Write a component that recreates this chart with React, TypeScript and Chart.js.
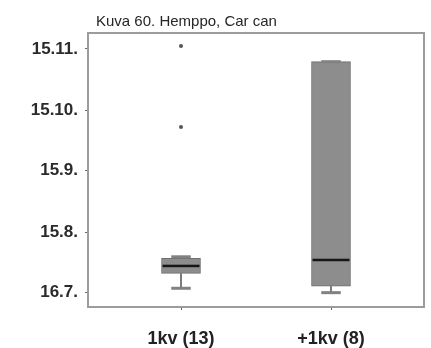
import React, { useEffect, useRef } from "react";
import { Chart, registerables } from "chart.js";

Chart.register(...registerables);

// Day-of-year values (non-leap year): 197 = 16.7., 227 = 15.8., 258 = 15.9., 288 = 15.10., 319 = 15.11.
const TITLE = "Kuva 60. Hemppo, Car can";
const CATEGORIES = ["1kv (13)", "+1kv (8)"];
const WHISKER_LOW = [198.9, 196.7];
const Q1 = [206.4, 200.0];
const MEDIAN = [210.1, 213.1];
const Q3 = [213.9, 312.6];
const WHISKER_HIGH = [214.7, 312.6];
const OUTLIERS: number[][] = [[320.5, 279.8], []];
const Y_TICK_VALUES = [197, 227, 258, 288, 319];
const Y_TICK_LABELS = ["16.7.", "15.8.", "15.9.", "15.10.", "15.11."];

const BOX_WIDTH = 39;
const FONT = "'Liberation Sans', Arial, sans-serif";

export default function App() {
  const ref = useRef<HTMLCanvasElement>(null);

  useEffect(() => {
    if (!ref.current) return;

    const boxPlugin = {
      id: "boxExtras",
      afterDatasetsDraw(chart: any) {
        const { ctx, scales, chartArea } = chart;
        const x = scales.x;
        const y = scales.y;
        ctx.save();
        CATEGORIES.forEach((_, i) => {
          const cx = x.getPixelForValue(i + 1);
          const capW = BOX_WIDTH / 2;
          // whiskers
          ctx.strokeStyle = "#7a7a7a";
          ctx.lineWidth = 2;
          ctx.beginPath();
          ctx.moveTo(cx, y.getPixelForValue(Q3[i]));
          ctx.lineTo(cx, y.getPixelForValue(WHISKER_HIGH[i]));
          ctx.moveTo(cx, y.getPixelForValue(Q1[i]));
          ctx.lineTo(cx, y.getPixelForValue(WHISKER_LOW[i]));
          ctx.stroke();
          // caps
          ctx.fillStyle = "#828282";
          const yHi = y.getPixelForValue(WHISKER_HIGH[i]);
          const yLo = y.getPixelForValue(WHISKER_LOW[i]);
          ctx.fillRect(cx - capW / 2, yHi - 1.5, capW, 3);
          ctx.fillRect(cx - capW / 2, yLo - 1.5, capW, 3);
          // median
          ctx.fillStyle = "#161616";
          const ym = y.getPixelForValue(MEDIAN[i]);
          ctx.fillRect(cx - BOX_WIDTH / 2 + 1, ym - 1.25, BOX_WIDTH - 2, 2.5);
        });
        // frame
        ctx.strokeStyle = "#9c9c9c";
        ctx.lineWidth = 2;
        ctx.strokeRect(
          chartArea.left,
          chartArea.top,
          chartArea.right - chartArea.left,
          chartArea.bottom - chartArea.top
        );
        ctx.restore();
      },
      afterDraw(chart: any) {
        const { ctx, chartArea } = chart;
        ctx.save();
        ctx.fillStyle = "#262626";
        ctx.font = `15px ${FONT}`;
        ctx.textAlign = "left";
        ctx.textBaseline = "alphabetic";
        ctx.fillText(TITLE, chartArea.left + 8, 26);
        ctx.restore();
      },
    };

    const boxData = CATEGORIES.map((_, i) => ({ x: i + 1, y: [Q1[i], Q3[i]] }));
    const outlierData: { x: number; y: number }[] = [];
    OUTLIERS.forEach((arr, i) => arr.forEach((v) => outlierData.push({ x: i + 1, y: v })));

    const chart = new Chart(ref.current, {
      type: "bar",
      data: {
        datasets: [
          {
            type: "bar",
            data: boxData as any,
            backgroundColor: "#8d8d8d",
            borderColor: "#6e6e6e",
            borderWidth: 1,
            borderSkipped: false,
            barThickness: BOX_WIDTH,
          } as any,
          {
            type: "scatter",
            data: outlierData,
            pointRadius: 2,
            pointBackgroundColor: "#555",
            pointBorderWidth: 0,
            showLine: false,
          } as any,
        ],
      },
      options: {
        animation: false,
        responsive: false,
        events: [],
        layout: { padding: { top: 33, right: 7, left: 0, bottom: 0 } },
        plugins: { legend: { display: false }, tooltip: { enabled: false }, title: { display: false } },
        scales: {
          x: {
            type: "linear",
            min: 0.38,
            max: 2.62,
            offset: false,
            grid: { display: true, drawOnChartArea: false, offset: false, tickLength: 3, color: "#666", lineWidth: 1 },
            border: { display: false },
            afterBuildTicks: (s: any) => {
              s.ticks = CATEGORIES.map((_, i) => ({ value: i + 1 }));
            },
            afterFit: (s: any) => {
              s.height = 41;
            },
            ticks: {
              autoSkip: false,
              maxRotation: 0,
              padding: 18,
              color: "#222",
              font: { family: FONT, size: 18, weight: "bold" },
              callback: (v: any) => CATEGORIES[Math.round(Number(v)) - 1] ?? "",
            },
          },
          y: {
            type: "linear",
            min: 189.5,
            max: 327,
            beginAtZero: false,
            grid: { display: true, drawOnChartArea: false, tickLength: 3, color: "#666", lineWidth: 1 },
            border: { display: false },
            afterBuildTicks: (s: any) => {
              s.ticks = Y_TICK_VALUES.map((v) => ({ value: v }));
            },
            afterFit: (s: any) => {
              s.width = 88;
            },
            ticks: {
              autoSkip: false,
              padding: 7,
              color: "#2a2a2a",
              font: { family: FONT, size: 17, weight: "bold" },
              callback: (v: any) => {
                const idx = Y_TICK_VALUES.indexOf(Number(v));
                return idx >= 0 ? Y_TICK_LABELS[idx] : "";
              },
            },
          },
        },
      } as any,
      plugins: [boxPlugin],
    });

    return () => chart.destroy();
  }, []);

  return (
    <div style={{ position: "absolute", left: 0, top: 0, width: 431, height: 348, background: "#fff" }}>
      <canvas ref={ref} width={431} height={348} />
    </div>
  );
}
